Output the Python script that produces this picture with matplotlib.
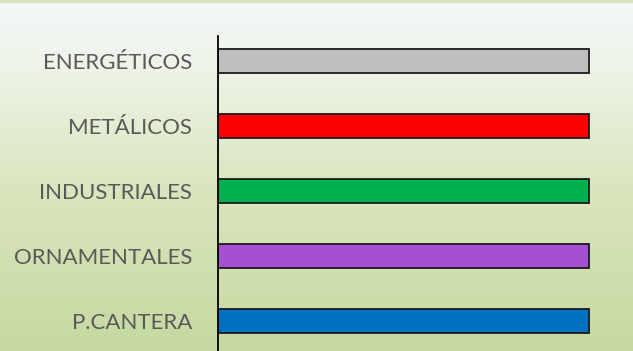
import matplotlib.pyplot as plt
import matplotlib.colors as mcolors
import numpy as np

categories = ['P.CANTERA', 'ORNAMENTALES', 'INDUSTRIALES', 'METÁLICOS', 'ENERGÉTICOS']
values = [100, 100, 100, 100, 100]
bar_colors = ['#0070c0', '#a450d0', '#00b050', '#ff0000', '#bfbfbf']

W, H = 633, 351
fig = plt.figure(figsize=(W / 100, H / 100), dpi=100)

# background gradient
bg = fig.add_axes([0, 0, 1, 1])
cmap = mcolors.LinearSegmentedColormap.from_list(
    'bg', [(0, '#f4f8fa'), (0.2, '#eef3e6'), (0.55, '#d9e5bd'), (1, '#c6d9a1')])
grad = np.linspace(0, 1, 256).reshape(-1, 1)
bg.imshow(grad, aspect='auto', cmap=cmap, extent=[0, 1, 0, 1], origin='upper')
bg.axhspan(1 - 2 / H, 1, color='#d5e3bb')
bg.set_xlim(0, 1)
bg.set_ylim(0, 1)
bg.axis('off')

left = 218 / W
top = 1 - 36 / H
ax = fig.add_axes([left, 0, 1 - left, top])
ax.patch.set_alpha(0)
y = np.arange(len(categories))
ax.barh(y, values, height=0.36, color=bar_colors, edgecolor='#1a1a1a', linewidth=1.3)
ax.set_ylim(-0.46, 4.385)
ax.set_xlim(0, 100 * (W - 218) / (589 - 218))
ax.set_yticks(y)
ax.set_yticklabels(categories, fontsize=16, color='#595959', family='Lato')
ax.tick_params(axis='y', length=0, pad=18.5)
ax.set_xticks([])
for s in ['top', 'right', 'bottom']:
    ax.spines[s].set_visible(False)
ax.spines['left'].set_color('black')
ax.spines['left'].set_linewidth(1.3)

fig.savefig('out.png', dpi=100)
